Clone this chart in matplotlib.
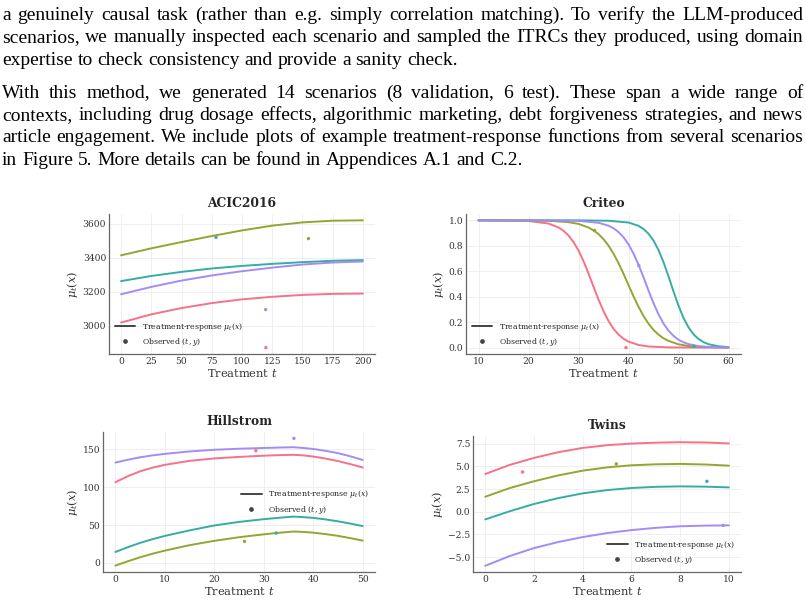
import matplotlib
matplotlib.use('Agg')
import matplotlib.pyplot as plt
from matplotlib.lines import Line2D
import seaborn as sns

# --- texte du paragraphe ---
para1 = [
    "a genuinely causal task (rather than e.g. simply correlation matching). To verify the LLM-produced",
    "scenarios, we manually inspected each scenario and sampled the ITRCs they produced, using domain",
    "expertise to check consistency and provide a sanity check.",
]
para2 = [
    "With this method, we generated 14 scenarios (8 validation, 6 test).  These span a wide range of",
    "contexts, including drug dosage effects, algorithmic marketing, debt forgiveness strategies, and news",
    "article engagement. We include plots of example treatment-response functions from several scenarios",
    "in Figure 5. More details can be found in Appendices A.1 and C.2.",
]

# --- ACIC2016 ---
acic_t = [0, 25, 50, 75, 100, 125, 150, 175, 200]
acic_olive = [3414, 3455, 3492, 3527, 3560, 3588, 3607, 3617, 3619]
acic_teal = [3263, 3293, 3317, 3337, 3352, 3364, 3374, 3382, 3386]
acic_purple = [3186, 3229, 3266, 3296, 3321, 3342, 3360, 3372, 3378]
acic_pink = [3020, 3068, 3105, 3134, 3156, 3171, 3182, 3188, 3190]
acic_obs_t = [119.8, 155, 78.5, 119.6]
acic_obs_y = [2873, 3512, 3520, 3096]

# --- Criteo ---
cri_pink_t = [10, 20, 24, 26, 27, 28, 29, 30, 31, 32, 33, 34, 35, 36, 37, 38, 39, 40, 42, 44, 48, 52, 60]
cri_pink = [1.0, 0.995, 0.975, 0.944, 0.918, 0.881, 0.829, 0.763, 0.679, 0.582, 0.479, 0.377,
            0.286, 0.209, 0.148, 0.103, 0.070, 0.047, 0.021, 0.009, 0.002, 0.001, 0.0]
cri_olive_t = [10, 20, 24, 28, 30, 32, 33, 34, 35, 36, 37, 38, 39, 40, 41, 42, 43, 44, 45, 46, 47, 48, 50, 52, 55, 60]
cri_olive = [1.0, 0.999, 0.997, 0.986, 0.972, 0.944, 0.921, 0.892, 0.852, 0.801, 0.738, 0.664, 0.580,
             0.491, 0.403, 0.321, 0.248, 0.188, 0.139, 0.102, 0.073, 0.053, 0.026, 0.013, 0.005, 0.001]
cri_purple_t = [10, 24, 30, 34, 36, 37, 38, 39, 40, 41, 42, 43, 44, 45, 46, 47, 48, 49, 50, 51, 52, 54, 56, 60]
cri_purple = [1.0, 1.0, 0.996, 0.981, 0.958, 0.938, 0.908, 0.867, 0.811, 0.739, 0.651, 0.552, 0.448,
              0.349, 0.261, 0.189, 0.133, 0.092, 0.062, 0.042, 0.028, 0.012, 0.005, 0.001]
cri_teal_t = [10, 30, 36, 40, 42, 43, 44, 45, 46, 47, 48, 49, 50, 51, 52, 53, 54, 55, 56, 58, 60]
cri_teal = [1.0, 1.0, 0.997, 0.983, 0.957, 0.932, 0.895, 0.841, 0.767, 0.671, 0.559, 0.441, 0.329,
            0.233, 0.159, 0.105, 0.068, 0.043, 0.027, 0.011, 0.004]
cri_obs_t = [39.5, 33.2, 53.1, 42.06]
cri_obs_y = [0.0, 0.92, 0.01, 0.645]

# --- Hillstrom ---
hil_t = [0, 2.5, 5, 7.5, 10, 15, 20, 25, 30, 33, 36, 38, 40, 42.5, 45, 47.5, 50]
hil_pink = [106.6, 114.5, 121, 125.8, 129.5, 134.8, 138, 140, 141.6, 142.3, 142.8, 142, 140.5,
            137.8, 134.5, 130.5, 126]
hil_olive = [-3.5, 2.2, 7.5, 12.2, 16.3, 23.5, 29.2, 34, 37.8, 39.8, 41.5, 41, 40,
             38.1, 35.8, 32.8, 29.5]
hil_teal = [14.5, 20.8, 26.5, 31.4, 35.7, 43, 49.5, 54.2, 57.8, 59.6, 61.2, 60.5, 59.5,
            57.5, 55, 52, 48.7]
hil_purple = [132.5, 136.2, 139.5, 142, 144, 147.2, 149.4, 150.8, 151.8, 152.3, 152.8, 151.8, 150.5,
              148, 145, 140.8, 136]
hil_obs_t = [28.4, 26.1, 32.5, 36.1]
hil_obs_y = [148.2, 28.5, 39.5, 164.5]

# --- Twins ---
tw_t = [0, 1, 2, 3, 4, 5, 6, 7, 8, 9, 10]
tw_pink = [4.15, 5.15, 5.92, 6.55, 7.02, 7.32, 7.5, 7.6, 7.65, 7.62, 7.52]
tw_olive = [1.65, 2.6, 3.35, 4.0, 4.52, 4.88, 5.11, 5.22, 5.26, 5.2, 5.07]
tw_teal = [-0.85, 0.05, 0.85, 1.5, 2.02, 2.38, 2.61, 2.74, 2.79, 2.76, 2.68]
tw_purple = [-5.95, -4.88, -4.0, -3.33, -2.79, -2.35, -2.02, -1.77, -1.6, -1.53, -1.5]
tw_obs_t = [1.53, 5.38, 9.1, 9.77]
tw_obs_y = [4.37, 5.26, 3.35, -1.5]

sns.set_theme(style='whitegrid')
plt.rcParams['font.family'] = ['DejaVu Serif']
plt.rcParams['mathtext.fontset'] = 'dejavuserif'
pink, olive, teal, purple = sns.color_palette('husl', 4)
obs_cols = [pink, olive, teal, purple]

W, H = 806, 604
fig = plt.figure(figsize=(W / 100, H / 100), dpi=100)
rend = fig.canvas.get_renderer()

# paragraphe justifie, mot par mot
def draw_line(txt, base_y, justify, x0=2, x1=803, size=14):
    words = txt.split()
    arts = [fig.text(0, 1 - base_y / H, w, fontsize=size, family='Liberation Serif',
                     va='baseline', color='black') for w in words]
    widths = [a.get_window_extent(rend).width for a in arts]
    if justify:
        gap = (x1 - x0 - sum(widths)) / (len(words) - 1)
    else:
        gap = size * 100 / 72 * 0.25
    x = x0
    for a, w in zip(arts, widths):
        a.set_x(x / W)
        x += w + gap

for i, line in enumerate(para1):
    draw_line(line, 20 + 22.5 * i, i < len(para1) - 1)
for i, line in enumerate(para2):
    draw_line(line, 97.5 + 22.5 * i, i < len(para2) - 1)


def style(ax, title, xticks, yticks):
    ax.set_title(title, fontsize=8.8, fontweight='bold', color='#262626', pad=5)
    ax.set_xlabel('Treatment $t$', fontsize=8.2, labelpad=1, color='#333333')
    ax.set_ylabel(r'$\mu_t(x)$', fontsize=8.2, labelpad=2, color='#333333')
    ax.set_xticks(xticks)
    ax.set_yticks(yticks)
    ax.tick_params(labelsize=6.6, pad=2, length=0, colors='#333333')
    ax.grid(color='#ececec', lw=0.6)
    for s in ['top', 'right']:
        ax.spines[s].set_visible(False)
    for s in ['left', 'bottom']:
        ax.spines[s].set_color('#666666')
        ax.spines[s].set_linewidth(0.9)


def legend(ax, loc):
    h = [Line2D([], [], color='#444444', lw=1.4),
         Line2D([], [], color='#444444', marker='o', ms=2.4, ls='none')]
    ax.legend(h, [r'Treatment-response $\mu_t(x)$', r'Observed $(t, y)$'], loc=loc,
              frameon=False, fontsize=5.6, handlelength=2.6, labelspacing=0.4, borderaxespad=0.4)


lw = 1.4

ax1 = fig.add_axes([0.1352, 0.4139, 0.3300, 0.2318])
for y, c in [(acic_pink, pink), (acic_olive, olive), (acic_teal, teal), (acic_purple, purple)]:
    ax1.plot(acic_t, y, color=c, lw=lw)
ax1.scatter(acic_obs_t, acic_obs_y, c=obs_cols, s=6, zorder=3, linewidths=0)
style(ax1, 'ACIC2016', [0, 25, 50, 75, 100, 125, 150, 175, 200], [3000, 3200, 3400, 3600])
legend(ax1, 'lower left')

ax2 = fig.add_axes([0.5782, 0.4139, 0.3412, 0.2318])
ax2.plot(cri_pink_t, cri_pink, color=pink, lw=lw)
ax2.plot(cri_olive_t, cri_olive, color=olive, lw=lw)
ax2.plot(cri_teal_t, cri_teal, color=teal, lw=lw)
ax2.plot(cri_purple_t, cri_purple, color=purple, lw=lw)
ax2.scatter(cri_obs_t, cri_obs_y, c=obs_cols, s=6, zorder=3, linewidths=0)
style(ax2, 'Criteo', [10, 20, 30, 40, 50, 60], [0.0, 0.2, 0.4, 0.6, 0.8, 1.0])
legend(ax2, 'lower left')

ax3 = fig.add_axes([0.1278, 0.0530, 0.3375, 0.2318])
for y, c in [(hil_pink, pink), (hil_olive, olive), (hil_teal, teal), (hil_purple, purple)]:
    ax3.plot(hil_t, y, color=c, lw=lw)
ax3.scatter(hil_obs_t, hil_obs_y, c=obs_cols, s=6, zorder=3, linewidths=0)
style(ax3, 'Hillstrom', [0, 10, 20, 30, 40, 50], [0, 50, 100, 150])
legend(ax3, 'center right')

ax4 = fig.add_axes([0.5869, 0.0530, 0.3325, 0.2251])
for y, c in [(tw_pink, pink), (tw_olive, olive), (tw_teal, teal), (tw_purple, purple)]:
    ax4.plot(tw_t, y, color=c, lw=lw)
ax4.scatter(tw_obs_t, tw_obs_y, c=obs_cols, s=6, zorder=3, linewidths=0)
style(ax4, 'Twins', [0, 2, 4, 6, 8, 10], [-5.0, -2.5, 0.0, 2.5, 5.0, 7.5])
legend(ax4, 'lower right')

fig.savefig('out.png', dpi=100)
